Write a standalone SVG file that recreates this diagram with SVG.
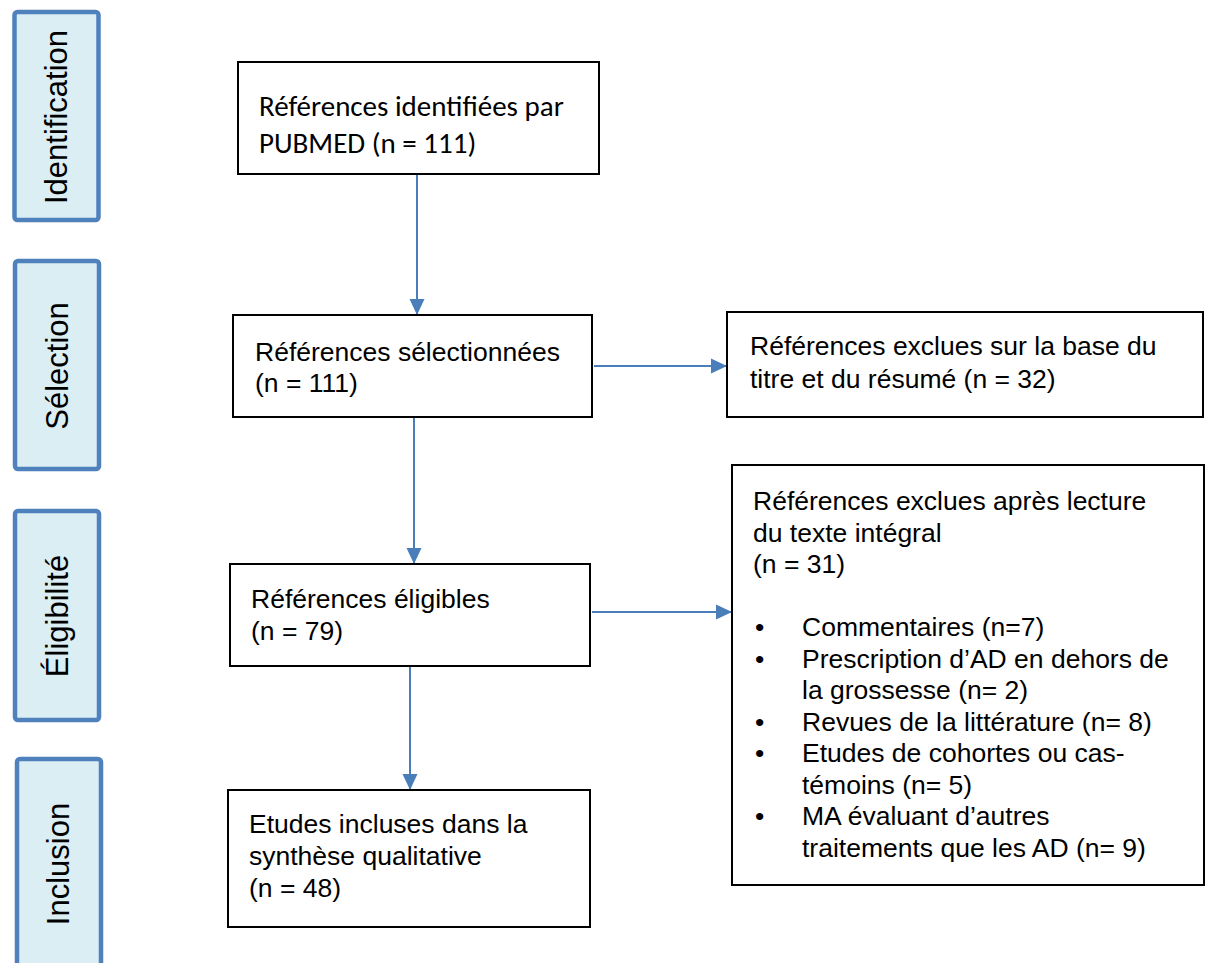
<svg xmlns="http://www.w3.org/2000/svg" width="1211" height="963" viewBox="0 0 1211 963">
<style>
.phase{fill:#dbeef4;stroke:#4f81bd;stroke-width:4.5}
.phase-t{font-family:"Liberation Sans",Arial,sans-serif;font-size:31px;fill:#000;text-anchor:middle}
.box{fill:#fff;stroke:#000;stroke-width:2}
.t{font-family:"Liberation Sans",Arial,sans-serif;font-size:26.5px;fill:#000}
.tc{font-family:"Carlito","Open Sans","Liberation Sans",sans-serif;font-size:29px;fill:#000}
.conn{stroke:#4a7ebb;stroke-width:2;fill:none;marker-end:url(#ah)}
</style>
<defs>
<marker id="ah" markerUnits="userSpaceOnUse" markerWidth="16" markerHeight="16" viewBox="0 0 16 16" refX="16" refY="8" orient="auto">
<path d="M0,0.5 L16,8 L0,15.5 Z" fill="#4a7ebb"/>
</marker>
</defs>
<rect width="1211" height="963" fill="#fff"/>
<g id="phase-identification">
<rect class="phase" x="14.5" y="12" width="84" height="208" rx="3"/>
<text class="phase-t" transform="translate(67,117) rotate(-90)">Identification</text>
</g>
<g id="phase-selection">
<rect class="phase" x="15" y="261" width="84" height="208" rx="3"/>
<text class="phase-t" transform="translate(68,366) rotate(-90)">Sélection</text>
</g>
<g id="phase-eligibilite">
<rect class="phase" x="15" y="511" width="84" height="209" rx="3"/>
<text class="phase-t" transform="translate(68,616) rotate(-90)">Éligibilité</text>
</g>
<g id="phase-inclusion">
<rect class="phase" x="17" y="759" width="84" height="230" rx="3"/>
<text class="phase-t" transform="translate(69,864) rotate(-90)">Inclusion</text>
</g>
<g id="connectors">
<line class="conn" x1="417" y1="175" x2="417" y2="315"/>
<line class="conn" x1="594" y1="366" x2="727" y2="366"/>
<line class="conn" x1="414" y1="418" x2="414" y2="564"/>
<line class="conn" x1="592" y1="612" x2="732" y2="612"/>
<line class="conn" x1="410" y1="667" x2="410" y2="790"/>
</g>
<g id="node-identified">
<rect class="box" x="238" y="62" width="361" height="112"/>
<text class="tc" x="259" y="116">Références identifiées par</text>
<text class="tc" x="259" y="153">PUBMED (n = 111)</text>
</g>
<g id="node-selected">
<rect class="box" x="233" y="315" width="359" height="102"/>
<text class="t" x="255" y="361">Références sélectionnées</text>
<text class="t" x="255" y="392">(n = 111)</text>
</g>
<g id="node-excluded-title">
<rect class="box" x="727" y="312" width="476" height="105"/>
<text class="t" x="750" y="355">Références exclues sur la base du</text>
<text class="t" x="750" y="388">titre et du résumé (n = 32)</text>
</g>
<g id="node-eligible">
<rect class="box" x="230" y="564" width="360" height="102"/>
<text class="t" x="251" y="608">Références éligibles</text>
<text class="t" x="251" y="640">(n = 79)</text>
</g>
<g id="node-excluded-fulltext">
<rect class="box" x="732" y="465" width="472" height="420"/>
<text class="t" x="753" y="510">Références exclues après lecture</text>
<text class="t" x="753" y="541.5">du texte intégral</text>
<text class="t" x="753" y="573">(n = 31)</text>
<text class="t" x="755" y="636">•</text>
<text class="t" x="802" y="636">Commentaires (n=7)</text>
<text class="t" x="755" y="667.5">•</text>
<text class="t" x="802" y="667.5">Prescription d’AD en dehors de</text>
<text class="t" x="802" y="699">la grossesse (n= 2)</text>
<text class="t" x="755" y="730.5">•</text>
<text class="t" x="802" y="730.5">Revues de la littérature (n= 8)</text>
<text class="t" x="755" y="762">•</text>
<text class="t" x="802" y="762">Etudes de cohortes ou cas-</text>
<text class="t" x="802" y="793.5">témoins (n= 5)</text>
<text class="t" x="755" y="825">•</text>
<text class="t" x="802" y="825">MA évaluant d’autres</text>
<text class="t" x="802" y="856.5">traitements que les AD (n= 9)</text>
</g>
<g id="node-included">
<rect class="box" x="228" y="790" width="362" height="137"/>
<text class="t" x="249" y="833">Etudes incluses dans la</text>
<text class="t" x="249" y="865">synthèse qualitative</text>
<text class="t" x="249" y="897">(n = 48)</text>
</g>
</svg>
